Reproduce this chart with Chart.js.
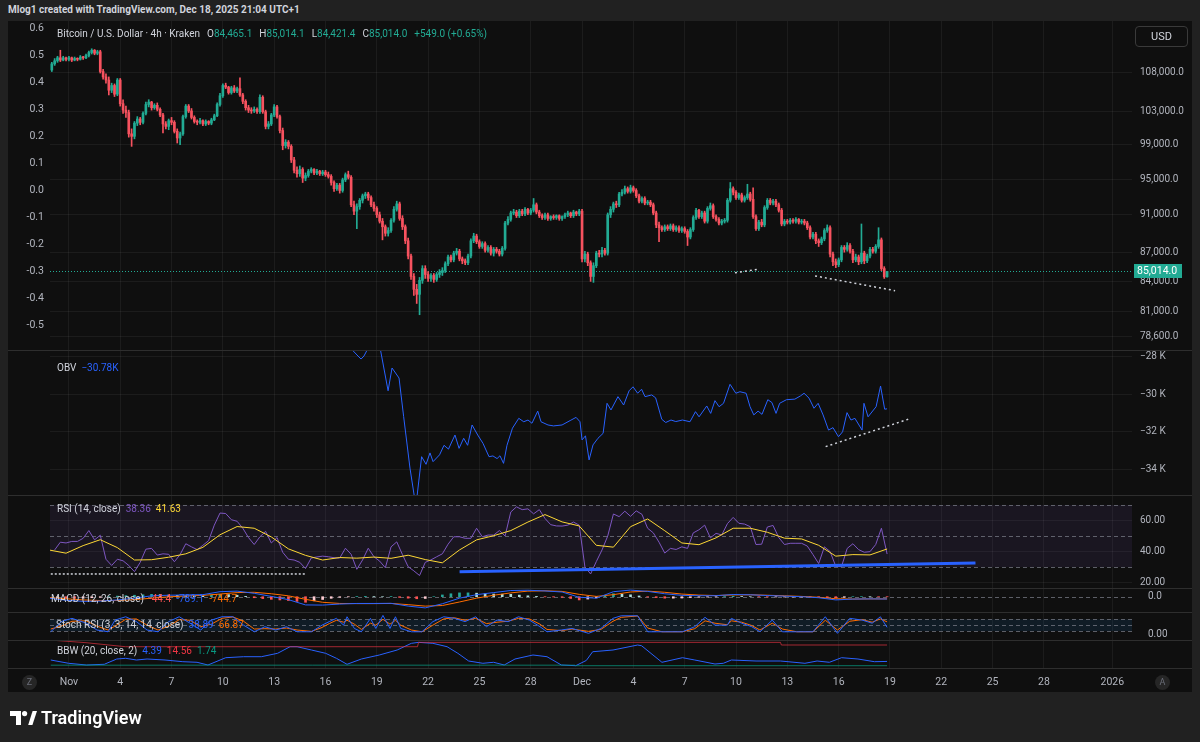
<!DOCTYPE html>
<html>
<head>
<meta charset="utf-8">
<title>BTCUSD 4h - Kraken</title>
<script src="https://cdn.jsdelivr.net/npm/chart.js@4.4.1/dist/chart.umd.min.js"></script>
<style>
  html, body { margin: 0; padding: 0; }
  body { width: 1200px; height: 742px; background: #212121; position: relative; overflow: hidden;
         font-family: Roboto, "Noto Sans", sans-serif; }
  #frame { position: absolute; left: 8px; top: 21px; width: 1184px; height: 671px; background: #0f0f0f; }
  canvas { position: absolute; left: 8px; }
  .sep { position: absolute; left: 8px; width: 1184px; height: 1px; background: #2e2e2e; }
  .txt { position: absolute; white-space: nowrap; font-size: 10px; line-height: 14px; color: #d1d4dc; }
  .txt span { margin-left: 5px; }
  .txt span:first-child { margin-left: 0; }
  #credit { left: 8px; top: 3px; font-size: 10px; font-weight: 700; color: #d1d4dc; }
  #lgPrice span { margin-left: 7px; }
  #lgPrice span:first-child { margin-left: 0; }
  #usd { position: absolute; left: 1135px; top: 26px; width: 51px; height: 19px; border: 1px solid #3a3a3a;
         border-radius: 4px; color: #d1d4dc; font-size: 11px; line-height: 19px; text-align: center; }
  .btn { position: absolute; width: 15px; height: 15px; border-radius: 50%; background: #262626; color: #6a6d78;
         font-size: 9px; line-height: 15px; text-align: center; }
  #logo { position: absolute; left: 10px; top: 708px; color: #fff; font-size: 18px; font-weight: 600; line-height: 20px; }
  #logo svg { vertical-align: -1px; margin-right: 4px; }
</style>
</head>
<body>
<div id="frame"></div>
<div id="credit" class="txt">Mlog1 created with TradingView.com, Dec 18, 2025 21:04 UTC+1</div>

<canvas id="cPrice" width="1184" height="329" style="top:21px"></canvas>
<canvas id="cObv" width="1184" height="145" style="top:350px"></canvas>
<canvas id="cRsi" width="1184" height="93" style="top:495px"></canvas>
<canvas id="cMacd" width="1184" height="24" style="top:588px"></canvas>
<canvas id="cStoch" width="1184" height="28" style="top:612px"></canvas>
<canvas id="cBbw" width="1184" height="52" style="top:640px"></canvas>

<div class="sep" style="top:350px"></div>
<div class="sep" style="top:495px"></div>
<div class="sep" style="top:588px"></div>
<div class="sep" style="top:612px"></div>
<div class="sep" style="top:640px"></div>
<div class="sep" style="top:668px"></div>

<div class="txt" id="lgPrice" style="left:57px;top:27px"></div>
<div class="txt" id="lgObv" style="left:57px;top:361px"></div>
<div class="txt" id="lgRsi" style="left:57px;top:502px"></div>
<div class="txt" id="lgMacd" style="left:51px;top:592px"></div>
<div class="txt" id="lgStoch" style="left:56px;top:618px"></div>
<div class="txt" id="lgBbw" style="left:57px;top:644px"></div>
<div id="usd">USD</div>
<div class="btn" style="left:22px;top:675px">Z</div>
<div class="btn" style="left:1155px;top:675px">A</div>
<div id="logo"><svg width="27" height="14" viewBox="0 0 27 14"><path d="M0 0H11V14H6V5H0Z" fill="#fff"/><circle cx="14.6" cy="2.6" r="2.6" fill="#fff"/><path d="M18.2 14L22.6 0H27L22.4 14Z" fill="#fff"/></svg>TradingView</div>

<script>
// ---------- x axis (days counted from Nov 1 2025) ----------
const tickDays = [0, 3, 6, 9, 12, 15, 18, 21, 24, 27, 30, 33, 36, 39, 42, 45, 48, 51, 54, 57, 61];
const tickLabels = ['Nov', '4', '7', '10', '13', '16', '19', '22', '25', '28', 'Dec', '4', '7', '10', '13', '16', '19', '22', '25', '28', '2026'];

// ---------- 4h candles, Oct 31 00:00 -> Dec 18 20:00 ----------
const FIRST_BAR_DAY = -1;
const BARS_PER_DAY = 6;
const opens = [
  108300,109100,109500,109900,109600,109900, 109700,109900,109600,109800,109700,110000,
  109900,110200,110600,110900,110500,110700, 108100,107400,107000,105700,106300,105200,
  107000,104000,103200,102900,100300,100000, 101600,102100,101700,102800,103900,104200,
  103500,103800,103300,102600,101500,101200, 101900,101700,100600,99800,100300,102400,
  103700,103100,102300,101800,101700,101900, 101500,101800,101600,102000,102500,103900,
  105000,106300,106100,105400,106000,105600, 105900,105100,104300,103500,103200,103100,
  103300,103000,104800,103000,101200,101500, 102600,103600,102400,100700,98900,99300,
  98800,97200,96000,95600,96100,95100, 95400,95900,96100,95700,95900,95600,
  95800,95500,95300,94600,93900,94300, 93700,94900,95500,95200,92100,91400,
  91900,92600,93100,93300,92900,92100, 91700,91000,90300,89700,89000,89300,
  90400,91600,92200,90600,89700,88200, 86600,84500,83200,82700,84100,85300,
  84700,84300,84600,84200,84700,84900, 85100,85800,86500,86200,86900,87100,
  86300,86100,85900,86600,88200,88700, 88100,87600,87900,87200,87500,86900,
  87300,87100,86800,87400,90100,90500, 91200,91300,90900,91400,91100,91600,
  91200,91500,92100,91300,90900,90700, 91000,90600,90800,90700,90900,90600,
  90800,91000,91200,90900,91300,91100, 91400,86300,86800,85900,84500,85600,
  86900,86800,87200,86900,91000,91600, 92200,92100,93300,93500,93900,93600,
  94000,93700,93100,92500,92800,92300, 92400,92100,91200,89900,89600,89400,
  89700,89500,89800,89400,89600,89300, 89500,89200,88600,89400,90700,91500,
  90800,91200,90300,91700,92000,90800, 90500,90100,90300,90400,92600,93900,
  93500,92900,93200,92600,92900,93300, 92700,90800,89500,90200,89900,91800,
  92600,92300,92500,92100,91500,90000, 90300,90200,90400,90300,90500,90200,
  90300,90100,89600,88600,88900,88200, 88000,88400,89300,89600,86800,86000,
  85700,86200,87500,87300,87700,87100, 86200,86500,86000,86900,86100,86600,
  87300,87100,87600,88300,85300,84465.1
];
const highs = [
  109300,109800,110100,110900,110100,110000, 110100,110000,110000,109900,110200,110100,
  110400,110800,111100,111000,110900,110900, 108400,107800,107400,106600,106500,107200,
  107200,104500,103700,103200,100900,101800, 102400,102300,103000,104200,104500,104300,
  104000,104100,103500,102800,101800,102100, 102300,101900,100900,100500,102600,103900,
  103900,103400,102500,102000,102200,102000, 102000,101900,102200,102700,104100,105300,
  106500,106600,106200,106200,106300,106100, 107300,105300,104500,103800,103500,103600,
  103500,105100,105000,103200,101800,102800, 103900,103800,102600,101000,99600,99500,
  99000,97500,96400,96500,96300,95700, 96100,96300,96200,96100,96000,96000,
  96000,95800,95500,94800,94500,94500, 95100,95700,95900,95400,92500,92200,
  92800,93300,93500,93500,93100,92400, 91900,91300,90600,89900,89600,90600,
  91900,92500,92400,90900,89900,88500, 86800,84800,83700,84400,85600,85600,
  85000,84800,84800,84900,85200,85400, 86000,86700,86700,87100,87400,87300,
  86500,86300,86800,88400,89000,88900, 88300,88100,88100,87700,87700,87500,
  87500,87300,87600,90300,90800,91400, 91600,91500,91600,91600,91800,91700,
  91700,92800,92300,91500,91100,91200, 91200,90900,91000,91000,91000,90900,
  91200,91400,91300,91500,91400,91600, 91600,87100,87000,86100,85900,87100,
  87200,87500,87400,91200,91900,92400, 92500,93500,93800,94200,94100,94300,
  94200,93900,93300,93000,93000,92600, 92600,92300,91400,90200,89800,89900,
  89900,90000,90000,89800,89800,89700, 89700,89400,89600,90900,91700,91600,
  91400,91400,91900,92300,92200,91000, 90700,90500,90600,92800,94600,94100,
  93700,93400,93400,93100,94400,93500, 94000,91000,90400,90500,92000,92800,
  92800,92700,92700,92300,91700,90500, 90500,90600,90600,90700,90600,90500,
  90500,90300,89800,89100,89100,88400, 88600,89500,89900,89800,87000,86300,
  86400,87700,87700,88000,87900,87300, 86800,86700,90000,87100,86800,87500,
  87500,87800,89600,88500,85500,85014.1
];
const lows = [
  108100,108900,109300,109400,109500,109500, 109500,109400,109500,109500,109600,109700,
  109800,110000,110400,110300,110300,107900, 107100,106600,105100,105400,104900,105000,
  103700,102800,102300,99900,98800,99700, 101300,101400,101500,102600,103600,103200,
  103300,103100,102400,100400,100900,100800, 101400,100400,99200,99000,100100,102200,
  102900,102100,101600,101400,101500,101300, 101300,101400,101400,101900,102400,103700,
  104800,105900,105200,105200,105400,105400, 104900,104000,103200,102900,102800,102900,
  102800,102800,102800,100900,100900,101300, 102400,102200,100400,98400,98600,98500,
  96900,95700,95200,95300,94600,94800, 95200,95700,95500,95500,95400,95400,
  95300,95100,94300,93600,93700,93400, 93500,94700,95000,91900,91000,89500,
  91600,92300,92800,92600,91900,91400, 90700,90100,88300,88700,88700,89100,
  90200,91400,90400,89400,87900,86300, 84200,82600,81800,80700,83800,84300,
  84000,84000,83900,84000,84400,84600, 84900,85600,86000,86000,86700,86100,
  85800,85700,85700,86400,88000,87900, 87400,87400,87000,87000,86700,86600,
  86900,86600,86600,87200,89900,90300, 91000,90700,90700,90900,90900,91000,
  91000,91300,91100,90700,90500,90500, 90400,90400,90500,90500,90400,90400,
  90600,90800,90700,90700,90900,90900, 86000,86000,85600,84000,83900,85400,
  86500,86500,86700,86700,90700,91300, 91800,91900,93100,93300,93400,93400,
  93500,92900,92300,92300,92100,92100, 91900,91000,89600,88100,89200,89200,
  89300,89300,89200,89200,89100,89100, 89000,87700,88400,89200,90500,90600,
  90600,90100,90100,91500,90600,90300, 89900,89900,90100,90200,92400,93200,
  92700,92700,92400,92400,92700,92500, 90600,89300,89300,89700,89700,91600,
  92100,92100,91900,91300,89800,89800, 90000,90000,90100,90100,90000,90000,
  89900,89400,88400,88400,87900,87600, 87800,88200,89100,86500,85600,85400,
  85500,86000,87000,87100,86900,85900, 86000,85700,85800,85800,85900,86400,
  86900,86900,87400,85100,84300,84421.4
];
const closes = [
  109100,109500,109900,109600,109900,109700, 109900,109600,109800,109700,110000,109900,
  110200,110600,110900,110500,110700,108100, 107400,107000,105700,106300,105200,107000,
  104000,103200,102900,100300,100000,101600, 102100,101700,102800,103900,104200,103500,
  103800,103300,102600,101500,101200,101900, 101700,100600,99800,100300,102400,103700,
  103100,102300,101800,101700,101900,101500, 101800,101600,102000,102500,103900,105000,
  106300,106100,105400,106000,105600,105900, 105100,104300,103500,103200,103100,103300,
  103000,104800,103000,101200,101500,102600, 103600,102400,100700,98900,99300,98800,
  97200,96000,95600,96100,95100,95400, 95900,96100,95700,95900,95600,95800,
  95500,95300,94600,93900,94300,93700, 94900,95500,95200,92100,91400,91900,
  92600,93100,93300,92900,92100,91700, 91000,90300,89700,89000,89300,90400,
  91600,92200,90600,89700,88200,86600, 84500,83200,82700,84100,85300,84700,
  84300,84600,84200,84700,84900,85100, 85800,86500,86200,86900,87100,86300,
  86100,85900,86600,88200,88700,88100, 87600,87900,87200,87500,86900,87300,
  87100,86800,87400,90100,90500,91200, 91300,90900,91400,91100,91600,91200,
  91500,92100,91300,90900,90700,91000, 90600,90800,90700,90900,90600,90800,
  91000,91200,90900,91300,91100,91400, 86300,86800,85900,84500,85600,86900,
  86800,87200,86900,91000,91600,92200, 92100,93300,93500,93900,93600,94000,
  93700,93100,92500,92800,92300,92400, 92100,91200,89900,89600,89400,89700,
  89500,89800,89400,89600,89300,89500, 89200,88600,89400,90700,91500,90800,
  91200,90300,91700,92000,90800,90500, 90100,90300,90400,92600,93900,93500,
  92900,93200,92600,92900,93300,92700, 90800,89500,90200,89900,91800,92600,
  92300,92500,92100,91500,90000,90300, 90200,90400,90300,90500,90200,90300,
  90100,89600,88600,88900,88200,88000, 88400,89300,89600,86800,86000,85700,
  86200,87500,87300,87700,87100,86200, 86500,86000,86900,86100,86600,87300,
  87100,87600,88300,85300,84465.0,85014.0
];
const priceTicks = [108000, 103000, 99000, 95000, 91000, 87000, 84000, 81000, 78600];
const pctTicks = [0.6, 0.5, 0.4, 0.3, 0.2, 0.1, 0, -0.1, -0.2, -0.3, -0.4, -0.5];

// hand-drawn trend lines (day, value)
const priceTrend1Days = [38.94, 40.27];
const priceTrend1Values = [84880, 85220];
const priceTrend2Days = [43.62, 48.30];
const priceTrend2Values = [84550, 83070];
const obvTrendDays = [44.24, 49.10];
const obvTrendValues = [-32770, -31320];
const rsiDotDays = [-1.06, 13.86];
const rsiDotValues = [25.5, 25.5];
const rsiTrendDays = [22.84, 53.0];
const rsiTrendValues = [27.0, 32.6];

// ---------- OBV ----------
const obvDays = [15.85,16.90,17.08,17.25,17.72,18.22,18.66,18.89,19.30,19.57,
  19.94,20.23,20.35,20.62,20.88,21.11,21.29,21.67,21.93,22.19,
  22.57,22.81,23.08,23.31,23.57,23.90,24.21,24.56,24.79,25.03,
  25.20,25.41,25.61,25.93,26.30,26.59,26.84,27.07,27.41,27.60,
  28.01,28.33,28.83,29.30,29.65,29.88,30.00,30.20,30.41,30.64,
  30.93,31.23,31.46,31.69,32.10,32.43,32.75,32.98,33.25,33.48,
  33.68,34.07,34.30,34.66,34.89,35.20,35.48,35.87,36.31,36.63,
  36.84,37.29,37.52,37.77,38.01,38.27,38.65,38.99,39.23,39.59,
  39.82,40.04,40.29,40.52,40.86,41.10,41.34,41.55,41.95,42.44,
  42.77,42.98,43.27,43.56,43.80,44.09,44.41,44.67,44.99,45.23,
  45.49,45.72,45.95,46.37,46.48,46.72,47.19,47.45,47.69,47.83];
const obvValues = [-27000,-28000,-28160,-28000,-27200,-27700,-29830,-28630,-29160,-31190,
  -33900,-35600,-35400,-33300,-33700,-33100,-33560,-33200,-32700,-32900,
  -32160,-32860,-32330,-32700,-31630,-32160,-32600,-33300,-33260,-33400,
  -33250,-33650,-32700,-31800,-31280,-31460,-31370,-31540,-30900,-31460,
  -31630,-31680,-31630,-31400,-31230,-31460,-32420,-32200,-33470,-32680,
  -32330,-32070,-30490,-30840,-30140,-30580,-29830,-29620,-29960,-29750,
  -30140,-30050,-30200,-31330,-31500,-31370,-31450,-31370,-31460,-30930,
  -31200,-30630,-31020,-30350,-30670,-30490,-29490,-29960,-29880,-29960,
  -30670,-31100,-30900,-31070,-30300,-30450,-31020,-30490,-30300,-30270,
  -30100,-29960,-30220,-30750,-30490,-31100,-31900,-31770,-32250,-31990,
  -30980,-31370,-31280,-31900,-30490,-31200,-30670,-29580,-30800,-30780];
const obvTicks = [-28000, -30000, -32000, -34000];

// ---------- RSI (8h samples ending on last bar) and its MA (daily samples) ----------
const rsiValues = [41,46,45.5,46.5,46.5,48.5,53.5,47.5,50.5,35,
  31,35,34,31,27,33,41.5,42,37.7,38.5,
  38.2,33.4,38,45,43,41.2,44,47,57,64.8,
  64.5,60.5,59.5,55,49,44.5,49.5,53,45.5,49,
  39.5,35,34.5,33,29,35.8,36.5,37,36.6,36,
  35.8,42.1,38.2,28.5,34.5,42.1,36.6,33.8,29.5,43,
  46.2,38,30.2,27.5,24.5,33,34.6,36.6,38.5,44.7,
  49.5,49.5,48.5,48.5,55,49.5,50.6,50.6,53.5,50,
  65.5,68.8,67,67.5,64.3,67,61.3,57.3,56.5,56.4,
  57,59,57,30,25.5,33.5,41,50,64.2,62.5,
  66,62.7,66.2,64,55,52,46,39,42,41.3,
  43,42,52,54,57,48.8,51.7,50.7,58,62,
  58.2,57.7,56,44.5,44.7,55.8,56.8,49,44.5,45.3,
  45.3,45.3,43.5,38,32.2,43,40,30.4,30.2,42,
  45,41.2,39.5,39.9,44.5,55,38.36];
const rsiMaValues = [41,38.9,43.8,47.6,42.5,34.5,34.7,36.3,38.5,42.7,
  50.8,56.1,55,49.4,41.7,37.5,34.5,36.1,35.7,36.4,
  35.6,37.6,34.8,32.7,41,47.5,50.2,53.5,59,63.8,
  59.1,56.5,44,42.8,56,61,53.4,45.5,44.4,48.8,
  55,55,52.4,48.6,48.1,44,37,38,37.8,41.63];
const rsiTicks = [60, 40, 20];

// ---------- MACD (daily line samples, 12h histogram samples) ----------
const macdValues = [-500,-1200,-1600,-1500,-1100,-500,300,500,600,700,
  1700,1900,1150,100,-1000,-2800,-2850,-2500,-2300,-2300,
  -2250,-3200,-3800,-2400,-500,700,1400,2100,2200,1950,
  1600,-200,-500,1700,2250,1800,1000,450,340,340,
  750,650,400,200,0,-350,-1100,-800,-750,-789.1];
const signalValues = [-300,-700,-1100,-1300,-1300,-1000,-500,-50,250,450,
  900,1400,1500,1000,300,-900,-1900,-2300,-2350,-2350,
  -2300,-2700,-3200,-3000,-1800,-500,500,1300,1900,2000,
  1800,800,100,700,1600,1900,1500,900,550,400,
  600,650,500,300,100,-200,-700,-800,-760,-744.7];
const histValues = [-350,-500,-550,-500,-350,-200,0,200,350,500,
  650,800,700,550,450,350,300,250,500,800,
  700,500,100,-350,-650,-900,-1100,-1300,-1600,-1900,
  -1400,-950,-550,-200,-50,50,100,50,0,50,
  -250,-500,-700,-600,0,600,1000,1300,1300,1200,
  1050,900,850,800,550,300,100,-50,-100,-200,
  -600,-1100,-800,-400,300,1000,850,650,250,-100,
  -300,-500,-500,-450,-300,-210,-120,-60,50,150,
  80,0,-50,-100,-100,-100,-100,-100,-120,-150,
  -300,-400,-200,0,20,10,-30,-44.4];

// ---------- Stoch RSI ----------
const stochDays = [-1.06,-0.44,0.18,1.02,1.64,2.29,2.70,3.32,3.95,4.57,
  5.21,5.83,6.45,7.08,7.71,8.33,8.95,9.59,10.21,10.84,
  11.46,12.09,12.72,13.34,14.18,14.80,15.22,15.64,16.06,16.26,
  16.69,17.10,17.63,17.94,18.36,18.77,19.09,19.40,20.02,20.64,
  21.28,21.91,22.53,23.16,23.78,24.41,25.03,25.67,26.29,26.92,
  27.54,27.95,28.79,29.41,30.38,31.10,31.81,32.29,33.25,33.84,
  34.67,35.87,36.59,37.19,37.77,38.49,38.73,39.33,39.92,40.40,
  41.12,41.71,42.55,43.50,44.22,44.93,45.65,46.37,46.96,47.44,47.83];
const stochK = [16,68,85,60,25,16,76,93,68,25,
  16,68,93,60,25,76,93,93,50,16,
  42,25,42,16,16,50,68,85,50,93,
  33,16,85,33,100,33,93,33,16,16,
  68,93,85,68,93,42,76,68,93,76,
  42,16,25,33,8,33,85,98,98,16,
  16,16,42,90,50,50,85,60,42,16,
  76,16,16,16,93,8,85,76,60,93,38.89];
const stochD = [30,45,70,72,45,25,45,80,82,50,
  25,45,78,75,42,55,85,92,70,30,
  32,30,35,25,18,38,58,75,65,75,
  55,28,60,50,80,55,75,50,25,16,
  50,82,88,75,85,58,65,70,85,82,
  55,28,22,30,18,28,70,90,97,35,
  16,16,32,72,60,52,72,65,48,25,
  60,30,16,16,75,25,70,78,65,82,66.87];

// ---------- Bollinger Band Width ----------
const bbwDays = [-1.06,-0.02,1.02,2.07,2.80,3.32,3.95,4.57,5.62,6.66,
  7.49,8.13,9.17,10.21,11.25,12.20,12.93,13.34,14.18,15.01,
  15.64,16.26,17.10,18.15,19.19,20.02,20.44,21.28,22.11,22.74,
  23.37,24.20,24.83,25.45,26.08,27.13,27.95,28.79,29.63,30.25,
  30.62,31.81,33.25,33.48,34.67,35.87,36.59,37.77,38.26,38.73,
  40.17,41.60,43.03,43.74,44.46,45.17,46.13,47.09,47.83];
const bbwValues = [5.27,3.23,2.17,2.61,5.89,6.32,5.27,5.89,5.27,4.22,
  3.85,2.17,6.7,7.31,7.31,9.42,13.5,13.5,11.46,9.42,
  6.32,2.61,5.89,8.36,11.46,15.6,16.2,15.6,13.5,9.42,
  4.65,3.23,3.85,2.17,5.89,8.36,7.31,2.17,1.74,5.0,
  10.4,11.46,14.56,14.1,3.85,6.7,5.27,2.79,3.23,5.27,
  4.65,4.65,3.23,4.65,3.85,6.7,5.89,4.22,4.39];
const bbwHighDays = [-1.06, 1.0, 3.3, 20.38, 20.44, 41.60, 41.65, 47.83];
const bbwHighValues = [17.6, 16.0, 13.5, 13.5, 16.2, 16.2, 14.56, 14.56];
const bbwLowDays = [-1.06, 29.58, 29.63, 47.83];
const bbwLowValues = [2.06, 2.06, 1.74, 1.74];

// ---------- look ----------
const UP = '#22ab94', DOWN = '#f7525f';
const GRID = 'rgba(255,255,255,0.055)';
const AXIS_TXT = '#b2b5be';
const BLUE = '#2962ff', ORANGE = '#ff6d00', PURPLE = '#7e57c2', YELLOW = '#fdd835';
const X_MIN = -1.105, X_MAX = 62.15;
const LEFT_W = 42, RIGHT_W = 60;

Chart.defaults.font.family = 'Roboto, "Noto Sans", sans-serif';
Chart.defaults.font.size = 10;
Chart.defaults.color = AXIS_TXT;

const lastDay = FIRST_BAR_DAY + (closes.length - 1) / BARS_PER_DAY;
const barDays = closes.map((_, i) => FIRST_BAR_DAY + i / BARS_PER_DAY);
const stepDays = (n, step) => Array.from({ length: n }, (_, i) => lastDay - (n - 1 - i) * step);
const pts = (days, vals) => vals.map((v, i) => ({ x: days[i], y: v }));
const last = a => a[a.length - 1];

function lineDs(data, color, width, extra) {
  return Object.assign({ type: 'line', data, borderColor: color, borderWidth: width || 1,
    pointRadius: 0, tension: 0, fill: false }, extra || {});
}

function xAxis(showLabels) {
  return {
    type: 'linear', min: X_MIN, max: X_MAX, offset: false,
    afterBuildTicks: s => { s.ticks = tickDays.map(v => ({ value: v })); },
    grid: { color: GRID, drawTicks: false, offset: false },
    border: { display: false },
    ticks: { display: showLabels, autoSkip: false, maxRotation: 0, padding: 8, color: AXIS_TXT,
      font: { size: 10.5 }, callback: (v, i) => tickLabels[i] },
    afterFit: s => { s.height = showLabels ? 24 : 0; s.paddingLeft = 0; s.paddingRight = 0; }
  };
}

function yAxis(min, max, ticks, fmt, extra) {
  return Object.assign({
    type: 'linear', position: 'right', min, max,
    afterBuildTicks: s => { s.ticks = ticks.map(v => ({ value: v })); },
    grid: { color: GRID, drawTicks: false },
    border: { display: false },
    ticks: { autoSkip: false, padding: 8, color: AXIS_TXT, callback: fmt },
    afterFit: s => { s.width = RIGHT_W; s.paddingTop = 0; s.paddingBottom = 0; }
  }, extra || {});
}

function opts(scales, padLeft, plugins) {
  return {
    responsive: false, animation: false, events: [],
    layout: { padding: { left: padLeft, right: 0, top: 0, bottom: 0 } },
    plugins: Object.assign({ legend: { display: false }, tooltip: { enabled: false } }, plugins || {}),
    scales
  };
}

// dashed guide levels and shaded band for oscillators
function levelsPlugin(id, band, fillColor, levels) {
  return {
    id,
    beforeDatasetsDraw(chart) {
      const { ctx, chartArea: a, scales: { y } } = chart;
      ctx.save();
      if (band) {
        const y1 = y.getPixelForValue(band[0]), y2 = y.getPixelForValue(band[1]);
        ctx.fillStyle = fillColor;
        ctx.fillRect(a.left, Math.min(y1, y2), a.right - a.left, Math.abs(y2 - y1));
      }
      ctx.strokeStyle = 'rgba(120,123,134,0.75)';
      ctx.lineWidth = 1;
      ctx.setLineDash([4, 3]);
      levels.forEach(v => {
        const py = Math.round(y.getPixelForValue(v)) + 0.5;
        ctx.beginPath(); ctx.moveTo(a.left, py); ctx.lineTo(a.right, py); ctx.stroke();
      });
      ctx.restore();
    }
  };
}

const fmtPrice = v => v.toLocaleString('en-US', { minimumFractionDigits: 1, maximumFractionDigits: 1 });

// last price line + tag
const lastPricePlugin = {
  id: 'lastPrice',
  beforeDatasetsDraw(chart) {
    const { ctx, chartArea: a, scales: { y } } = chart;
    const py = Math.round(y.getPixelForValue(last(closes))) + 0.5;
    ctx.save();
    ctx.strokeStyle = UP; ctx.lineWidth = 1; ctx.setLineDash([1, 2]);
    ctx.beginPath(); ctx.moveTo(a.left, py); ctx.lineTo(a.right, py); ctx.stroke();
    ctx.restore();
  },
  afterDraw(chart) {
    const { ctx, chartArea: a, scales: { y } } = chart;
    const py = Math.round(y.getPixelForValue(last(closes)));
    ctx.save();
    ctx.fillStyle = UP;
    ctx.fillRect(a.right + 2, py - 7, 48, 14);
    ctx.fillStyle = '#ffffff';
    ctx.font = '10.5px Roboto, "Noto Sans", sans-serif';
    ctx.textBaseline = 'middle';
    ctx.fillText(fmtPrice(last(closes)), a.right + 5, py + 0.5);
    ctx.restore();
  }
};

// ---------- price pane ----------
const candleColors = closes.map((c, i) => (c >= opens[i] ? UP : DOWN));
new Chart(document.getElementById('cPrice'), {
  type: 'bar',
  data: {
    datasets: [
      lineDs(pts(priceTrend1Days, priceTrend1Values), '#d1d4dc', 1.5, { borderDash: [2, 3], order: 0 }),
      lineDs(pts(priceTrend2Days, priceTrend2Values), '#d1d4dc', 1.5, { borderDash: [2, 3], order: 0 }),
      { type: 'bar', data: barDays.map((d, i) => ({ x: d, y: [lows[i], highs[i]] })),
        backgroundColor: candleColors, barThickness: 1, grouped: false, order: 2 },
      { type: 'bar', data: barDays.map((d, i) => ({ x: d, y: [Math.min(opens[i], closes[i]), Math.max(opens[i], closes[i])] })),
        backgroundColor: candleColors, barThickness: 2, minBarLength: 1, grouped: false, order: 1 }
    ]
  },
  options: opts({
    x: xAxis(false),
    y: yAxis(77350, 114870, priceTicks, fmtPrice, { type: 'logarithmic' }),
    pct: {
      type: 'linear', position: 'left', min: -0.5926, max: 0.626,
      afterBuildTicks: s => { s.ticks = pctTicks.map(v => ({ value: v })); },
      grid: { display: false, drawTicks: false }, border: { display: false },
      ticks: { autoSkip: false, padding: 6, color: AXIS_TXT, font: { size: 10.5 }, callback: v => v.toFixed(1) },
      afterFit: s => { s.width = LEFT_W; s.paddingTop = 0; s.paddingBottom = 0; }
    }
  }, 0),
  plugins: [lastPricePlugin]
});

// ---------- OBV pane ----------
new Chart(document.getElementById('cObv'), {
  type: 'line',
  data: { datasets: [
    lineDs(pts(obvTrendDays, obvTrendValues), '#d1d4dc', 1.5, { borderDash: [2, 3] }),
    lineDs(pts(obvDays, obvValues), BLUE, 1)
  ] },
  options: opts({
    x: xAxis(false),
    y: yAxis(-35316, -27684, obvTicks, v => '\u2212' + Math.abs(v / 1000) + ' K')
  }, LEFT_W)
});

// ---------- RSI pane ----------
new Chart(document.getElementById('cRsi'), {
  type: 'line',
  data: { datasets: [
    lineDs(pts(rsiTrendDays, rsiTrendValues), BLUE, 3, { order: 0 }),
    lineDs(pts(rsiDotDays, rsiDotValues), '#d1d4dc', 1.5, { borderDash: [2, 2], order: 0 }),
    lineDs(pts(stepDays(rsiMaValues.length, 1), rsiMaValues), YELLOW, 1, { order: 1 }),
    lineDs(pts(stepDays(rsiValues.length, 1 / 3), rsiValues), PURPLE, 1, { order: 2 })
  ] },
  options: opts({
    x: xAxis(false),
    y: yAxis(16.45, 76.45, rsiTicks, v => v.toFixed(2))
  }, LEFT_W),
  plugins: [levelsPlugin('rsiBand', [30, 70], 'rgba(126,87,194,0.10)', [70, 50, 30])]
});

// ---------- MACD pane ----------
const histColors = histValues.map((v, i) => {
  const prev = i ? histValues[i - 1] : v;
  if (v >= 0) return v >= prev ? '#26a69a' : '#b2dfdb';
  return v < prev ? '#ff5252' : '#ffcdd2';
});
new Chart(document.getElementById('cMacd'), {
  type: 'bar',
  data: { datasets: [
    lineDs(pts(stepDays(macdValues.length, 1), macdValues), BLUE, 1, { order: 1 }),
    lineDs(pts(stepDays(signalValues.length, 1), signalValues), ORANGE, 1, { order: 2 }),
    { type: 'bar', data: pts(stepDays(histValues.length, 0.5), histValues), backgroundColor: histColors,
      barThickness: 2, grouped: false, order: 3 }
  ] },
  options: opts({
    x: xAxis(false),
    y: yAxis(-5202, 2958, [0], v => v.toFixed(1), { grid: { display: false } })
  }, LEFT_W),
  plugins: [levelsPlugin('macdZero', null, null, [0])]
});

// ---------- Stoch RSI pane ----------
new Chart(document.getElementById('cStoch'), {
  type: 'line',
  data: { datasets: [
    lineDs(pts(stochDays, stochK), BLUE, 1, { order: 1 }),
    lineDs(pts(stochDays, stochD), ORANGE, 1, { order: 2 })
  ] },
  options: opts({
    x: xAxis(false),
    y: yAxis(-26.2, 117.4, [0], v => v.toFixed(2), { grid: { display: false } })
  }, LEFT_W),
  plugins: [levelsPlugin('stochBand', [20, 80], 'rgba(33,150,243,0.10)', [80, 50, 20])]
});

// ---------- BBW pane + date axis ----------
new Chart(document.getElementById('cBbw'), {
  type: 'line',
  data: { datasets: [
    lineDs(pts(bbwHighDays, bbwHighValues), 'rgba(242,54,69,0.65)', 1),
    lineDs(pts(bbwLowDays, bbwLowValues), 'rgba(8,153,129,0.75)', 1),
    lineDs(pts(bbwDays, bbwValues), BLUE, 1)
  ] },
  options: opts({
    x: xAxis(true),
    y: yAxis(0.316, 17.66, [], v => v, { grid: { display: false }, ticks: { display: false } })
  }, LEFT_W)
});

// ---------- legends (values taken from the series) ----------
const span = (t, c) => '<span style="color:' + c + '">' + t + '</span>';
const n1 = v => v.toLocaleString('en-US', { minimumFractionDigits: 1, maximumFractionDigits: 1 });
const prevClose = closes[closes.length - 2];
const chg = last(closes) - prevClose;
const ohlc = (k, v) => span(k + '<b style="font-weight:400;color:' + UP + '">' + n1(v) + '</b>', '#d1d4dc');
document.getElementById('lgPrice').innerHTML =
  span('Bitcoin / U.S. Dollar \u00b7 4h \u00b7 Kraken', '#d1d4dc') +
  ohlc('O', last(opens)) + ohlc('H', last(highs)) + ohlc('L', last(lows)) + ohlc('C', last(closes)) +
  span('+' + n1(chg) + ' (+' + (chg / prevClose * 100).toFixed(2) + '%)', UP);
document.getElementById('lgObv').innerHTML =
  span('OBV', '#d1d4dc') + span('\u2212' + Math.abs(last(obvValues) / 1000).toFixed(2) + 'K', BLUE);
document.getElementById('lgRsi').innerHTML =
  span('RSI (14, close)', '#d1d4dc') + span(last(rsiValues).toFixed(2), PURPLE) + span(last(rsiMaValues).toFixed(2), YELLOW);
document.getElementById('lgMacd').innerHTML =
  span('MACD (12, 26, close)', '#d1d4dc') + span(last(histValues).toFixed(1), '#ff5252') +
  span(last(macdValues).toFixed(1), BLUE) + span(last(signalValues).toFixed(1), ORANGE);
document.getElementById('lgStoch').innerHTML =
  span('Stoch RSI (3, 3, 14, 14, close)', '#d1d4dc') + span(last(stochK).toFixed(2), BLUE) + span(last(stochD).toFixed(2), ORANGE);
document.getElementById('lgBbw').innerHTML =
  span('BBW (20, close, 2)', '#d1d4dc') + span(last(bbwValues).toFixed(2), BLUE) +
  span(last(bbwHighValues).toFixed(2), '#f23645') + span(last(bbwLowValues).toFixed(2), '#089981');
</script>
</body>
</html>
